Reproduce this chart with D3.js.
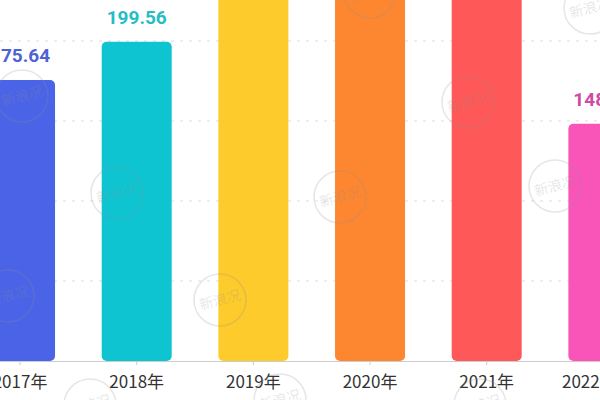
<!DOCTYPE html>
<html>
<head>
<meta charset="utf-8">
<script src="https://cdn.jsdelivr.net/npm/d3@7"></script>
<style>
  html, body { margin: 0; padding: 0; background: #fff; overflow: hidden; }
  svg { display: block; }
</style>
</head>
<body>
<svg id="chart" width="600" height="400"></svg>
<script>
// ---- data ----
const categories = ["2017年", "2018年", "2019年", "2020年", "2021年", "2022年"];
const values = [175.64, 199.56, 238.4, 252.7, 259.3, 148.26];
const valueLabels = ["175.64", "199.56", "238.40", "252.70", "259.30", "148.26"];
const barColors = ["#4b64e7", "#0ec4d1", "#fdcb2b", "#fd8731", "#fe5858", "#f955b8"];
const labelColors = ["#4d62d4", "#27bcc6", "#e7ac1a", "#ec7a2a", "#e95050", "#cf4aa2"];
const gridValues = [50, 100, 150, 200, 250];
const watermarkText = "新浪况";

const svg = d3.select("#chart");
const W = 600, H = 400;

const x = d3.scaleBand()
  .domain(categories)
  .range([-38.3, 661.7])
  .paddingInner(0.4)
  .paddingOuter(0.2);

const y = d3.scaleLinear()
  .domain([0, 200])
  .range([361, 41]);

// gridlines
svg.append("g")
  .selectAll("line")
  .data(gridValues)
  .join("line")
  .attr("x1", 0).attr("x2", W)
  .attr("y1", d => y(d)).attr("y2", d => y(d))
  .attr("stroke", "#dddddd")
  .attr("stroke-width", 1)
  .attr("stroke-dasharray", "3,6");

// bars
svg.append("g")
  .selectAll("rect")
  .data(values)
  .join("rect")
  .attr("x", (d, i) => x(categories[i]))
  .attr("width", x.bandwidth())
  .attr("y", d => y(d))
  .attr("height", d => y(0) - y(d))
  .attr("rx", 5).attr("ry", 5)
  .attr("fill", (d, i) => barColors[i]);

// value labels
svg.append("g")
  .selectAll("text")
  .data(values)
  .join("text")
  .attr("x", (d, i) => x(categories[i]) + x.bandwidth() / 2)
  .attr("y", d => y(d) - 18)
  .attr("text-anchor", "middle")
  .attr("font-family", "Roboto, 'DejaVu Sans', sans-serif")
  .attr("font-weight", "bold")
  .attr("font-size", 19)
  .attr("fill", (d, i) => labelColors[i])
  .text((d, i) => valueLabels[i]);

// x axis
const xAxis = d3.axisBottom(x).tickSize(4).tickPadding(11);
const gx = svg.append("g")
  .attr("transform", `translate(0,${y(0)})`)
  .call(xAxis);
gx.select(".domain").attr("stroke", "#cccccc").attr("d", `M0,0.5H${W}`);
gx.selectAll(".tick line").attr("stroke", "#cccccc");
gx.selectAll(".tick text")
  .attr("font-family", "'Noto Sans CJK SC', 'Noto Sans', sans-serif")
  .attr("font-size", 17)
  .attr("fill", "#333333")
  .attr("dx", (d, i) => i === categories.length - 1 ? -14 : 0);

// watermarks
const marks = [[22, 96], [117, 193], [220, 300], [340, 197], [468, 102], [370, -8], [8, 296], [90, 405], [280, 400], [480, 405], [555, 186], [590, 8]];
const wm = svg.append("g").attr("pointer-events", "none");
marks.forEach(([cx, cy]) => {
  const g = wm.append("g").attr("transform", `translate(${cx},${cy})`);
  g.append("circle").attr("r", 26)
    .attr("fill", "none")
    .attr("stroke", "rgba(140,140,140,0.22)")
    .attr("stroke-width", 1.5);
  g.append("text")
    .attr("transform", "rotate(-15)")
    .attr("text-anchor", "middle")
    .attr("dy", "0.35em")
    .attr("font-family", "'Noto Sans CJK SC', sans-serif")
    .attr("font-size", 14)
    .attr("fill", "rgba(140,140,140,0.22)")
    .text(watermarkText);
});
</script>
</body>
</html>
